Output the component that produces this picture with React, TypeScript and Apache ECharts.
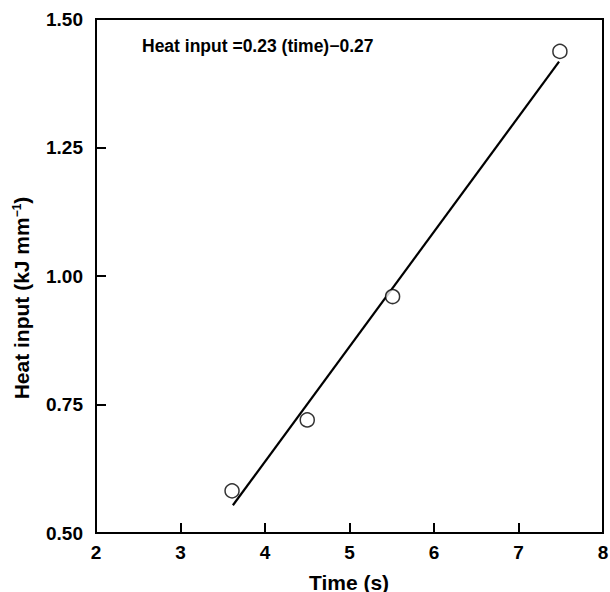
import React, { useEffect, useRef } from "react";
import * as echarts from "echarts";

const timeValues = [3.61, 4.5, 5.51, 7.49];
const heatValues = [0.582, 0.72, 0.96, 1.437];
const fitTime = [3.62, 7.48];
const fitHeat = [0.554, 1.417];
const xTicks = { min: 2, max: 8, interval: 1 };
const yTicks = { min: 0.5, max: 1.5, interval: 0.25 };
const equationText = "Heat input =0.23 (time)\u22120.27";
const xName = "Time (s)";

export default function App() {
  const ref = useRef<HTMLDivElement>(null);
  useEffect(() => {
    if (!ref.current) return;
    const chart = echarts.init(ref.current, null, { renderer: "svg" });
    const font = "'Liberation Sans', Arial, Helvetica, sans-serif";
    chart.setOption({
      animation: false,
      backgroundColor: "#fff",
      textStyle: { fontFamily: font },
      grid: {
        left: 96,
        right: 7,
        top: 19,
        bottom: 59,
        show: true,
        borderColor: "#000",
        borderWidth: 2,
        outerBoundsMode: "none",
      },
      xAxis: {
        type: "value",
        min: xTicks.min,
        max: xTicks.max,
        interval: xTicks.interval,
        axisLine: { show: true, lineStyle: { color: "#000", width: 2 } },
        axisTick: { show: true, inside: true, length: 10, lineStyle: { color: "#000", width: 2 } },
        splitLine: { show: false },
        axisLabel: { color: "#000", fontSize: 19, fontWeight: "bold", margin: 10, fontFamily: font },
      },
      yAxis: {
        type: "value",
        min: yTicks.min,
        max: yTicks.max,
        interval: yTicks.interval,
        axisLine: { show: true, lineStyle: { color: "#000", width: 2 } },
        axisTick: { show: true, inside: true, length: 10, lineStyle: { color: "#000", width: 2 } },
        splitLine: { show: false },
        axisLabel: {
          color: "#000",
          fontSize: 19,
          fontWeight: "bold",
          margin: 13,
          fontFamily: font,
          formatter: (v: number) => v.toFixed(2),
        },
      },
      graphic: [
        {
          type: "text",
          left: 142,
          top: 37,
          style: { text: equationText, fill: "#000", font: `bold 17.5px ${font}` },
        },
        {
          type: "text",
          x: 349,
          y: 582,
          style: { text: xName, fill: "#000", font: `bold 21px ${font}`, align: "center", verticalAlign: "middle" },
        },
        {
          type: "text",
          x: 21,
          y: 298,
          rotation: Math.PI / 2,
          style: {
            text: "{a|Heat input (kJ mm}{b|\u22121}{a|)}",
            align: "center",
            verticalAlign: "middle",
            rich: {
              a: { fontSize: 21, fontWeight: "bold", fontFamily: font, fill: "#000", color: "#000" },
              b: { fontSize: 12, fontWeight: "bold", fontFamily: font, fill: "#000", color: "#000", verticalAlign: "top", padding: [0, 0, 9, 0] },
            },
          },
        },
      ],
      series: [
        {
          type: "line",
          data: fitTime.map((t, i) => [t, fitHeat[i]]),
          symbol: "none",
          lineStyle: { color: "#000", width: 2.2 },
          z: 2,
        },
        {
          type: "scatter",
          data: timeValues.map((t, i) => [t, heatValues[i]]),
          symbol: "circle",
          symbolSize: 14,
          itemStyle: { color: "#fff", borderColor: "#000", borderWidth: 1.5 },
          z: 3,
        },
      ],
    });
    return () => chart.dispose();
  }, []);
  return <div ref={ref} style={{ position: "absolute", left: 0, top: 0, width: 610, height: 592 }} />;
}
